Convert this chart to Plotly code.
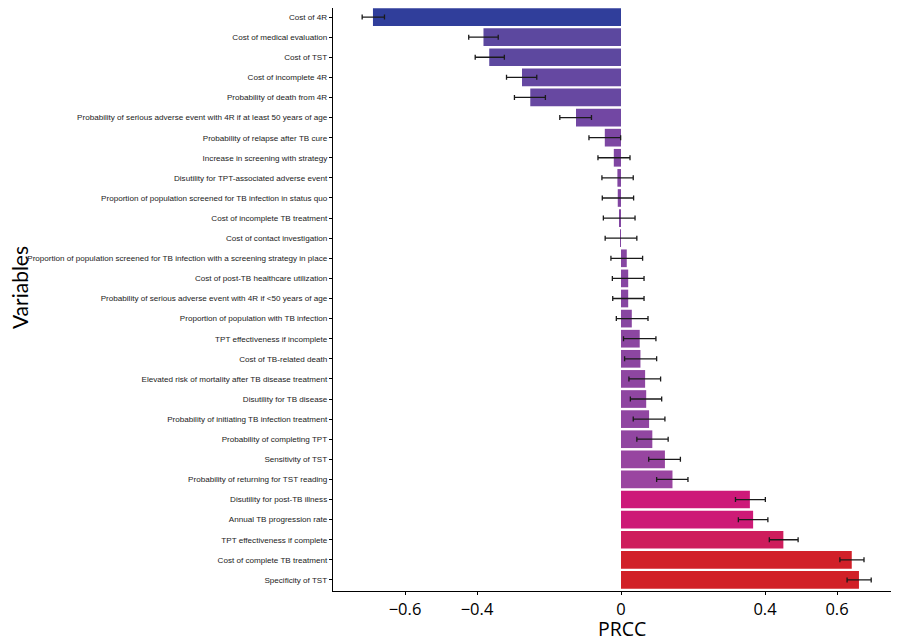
import plotly.graph_objs as go

variables = [
    "Cost of 4R",
    "Cost of medical evaluation",
    "Cost of TST",
    "Cost of incomplete 4R",
    "Probability of death from 4R",
    "Probability of serious adverse event with 4R if at least 50 years of age",
    "Probability of relapse after TB cure",
    "Increase in screening with strategy",
    "Disutility for TPT-associated adverse event",
    "Proportion of population screened for TB infection in status quo",
    "Cost of incomplete TB treatment",
    "Cost of contact investigation",
    "Proportion of population screened for TB infection with a screening strategy in place",
    "Cost of post-TB healthcare utilization",
    "Probability of serious adverse event with 4R if &lt;50 years of age",
    "Proportion of population with TB infection",
    "TPT effectiveness if incomplete",
    "Cost of TB-related death",
    "Elevated risk of mortality after TB disease treatment",
    "Disutility for TB disease",
    "Probability of initiating TB infection treatment",
    "Probability of completing TPT",
    "Sensitivity of TST",
    "Probability of returning for TST reading",
    "Disutility for post-TB illness",
    "Annual TB progression rate",
    "TPT effectiveness if complete",
    "Cost of complete TB treatment",
    "Specificity of TST",
]

prcc = [-0.689, -0.382, -0.366, -0.275, -0.252, -0.125, -0.045, -0.020, -0.010,
        -0.009, -0.005, -0.001, 0.016, 0.020, 0.020, 0.030, 0.052, 0.054, 0.067,
        0.070, 0.078, 0.087, 0.122, 0.143, 0.358, 0.367, 0.451, 0.641, 0.661]

ci_low = [-0.719, -0.423, -0.405, -0.318, -0.296, -0.170, -0.089, -0.064, -0.053,
          -0.052, -0.049, -0.044, -0.028, -0.024, -0.023, -0.013, 0.007, 0.010, 0.022,
          0.026, 0.034, 0.044, 0.077, 0.099, 0.318, 0.326, 0.412, 0.608, 0.628]

ci_high = [-0.657, -0.341, -0.324, -0.234, -0.210, -0.082, -0.001, 0.025, 0.034,
           0.035, 0.039, 0.044, 0.060, 0.064, 0.064, 0.075, 0.097, 0.099, 0.110,
           0.113, 0.122, 0.131, 0.165, 0.186, 0.401, 0.408, 0.492, 0.675, 0.695]

x_ticks = [-0.6, -0.4, 0, 0.4, 0.6]
x_tick_text = ["\u22120.6", "\u22120.4", "0", "0.4", "0.6"]

err_plus = [h - v for h, v in zip(ci_high, prcc)]
err_minus = [v - l for v, l in zip(prcc, ci_low)]

# blue -> purple -> magenta -> red, by PRCC value
bar_scale = [
    [0.0, "#2E3E9B"],
    [0.214, "#5A489F"],
    [0.429, "#7447A3"],
    [0.607, "#9B45A0"],
    [0.75, "#CD197B"],
    [0.821, "#CE1D5C"],
    [0.964, "#D12027"],
    [1.0, "#D12027"],
]

fig = go.Figure()

fig.add_trace(go.Bar(
    x=prcc,
    y=variables,
    orientation='h',
    marker={
        'color': prcc,
        'colorscale': bar_scale,
        'cmin': -0.7,
        'cmax': 0.7,
        'line': {'width': 0},
    },
    error_x={
        'type': 'data',
        'symmetric': False,
        'array': err_plus,
        'arrayminus': err_minus,
        'color': '#1a1a1a',
        'thickness': 1.3,
        'width': 2.5,
    },
    hoverinfo='x+y',
))

# page body has an 8px margin, so the figure is sized to what is left of the window
fig.update_layout(
    width=892,
    height=633,
    plot_bgcolor='white',
    paper_bgcolor='white',
    margin={'l': 325, 'r': 9, 't': 0, 'b': 50, 'autoexpand': False},
    bargap=0.12,
    showlegend=False,
    xaxis={
        'range': [-0.8, 0.75],
        'tickvals': x_ticks,
        'ticktext': x_tick_text,
        'ticks': 'outside',
        'ticklen': 3,
        'tickcolor': 'black',
        'showline': True,
        'linecolor': 'black',
        'linewidth': 1.3,
        'showgrid': False,
        'zeroline': False,
        'tickfont': {'family': 'Open Sans, sans-serif', 'size': 16.5, 'color': 'black'},
    },
    yaxis={
        'range': [28.55, -0.45],
        'ticks': 'outside',
        'ticklen': 3,
        'tickcolor': 'black',
        'showline': True,
        'linecolor': 'black',
        'linewidth': 1.3,
        'showgrid': False,
        'zeroline': False,
        'tickfont': {'family': 'Liberation Sans, Arial, sans-serif', 'size': 8.1, 'color': '#222'},
    },
    annotations=[
        dict(text="PRCC", xref='x', yref='paper', x=0.003, y=0, yshift=-37,
             xanchor='center', yanchor='middle', showarrow=False,
             font={'family': 'Open Sans, sans-serif', 'size': 19.5, 'color': 'black'}),
        dict(text="Variables", xref='paper', yref='paper', x=-0.563, y=0.521,
             xanchor='center', yanchor='middle', textangle=-90, showarrow=False,
             font={'family': 'Lato, sans-serif', 'size': 21, 'color': 'black'}),
    ],
)

fig.write_html("out.html")
